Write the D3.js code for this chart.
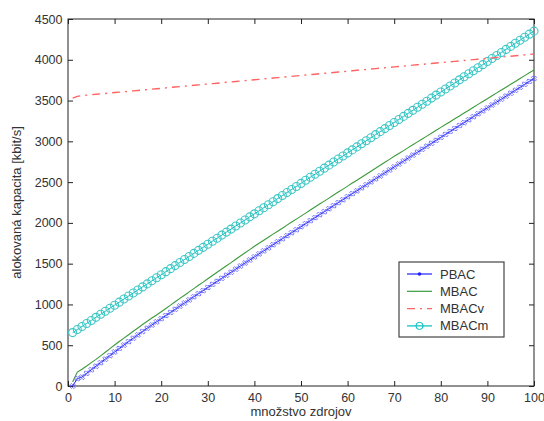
<!DOCTYPE html>
<html>
<head>
<meta charset="utf-8">
<script src="https://cdn.jsdelivr.net/npm/d3@7"></script>
<style>
  body { margin: 0; background: #fff; overflow: hidden; }
  svg { display: block; font-family: "Liberation Sans", Arial, sans-serif; }
</style>
</head>
<body>
<svg id="chart" width="544" height="421"></svg>
<script>
// values, n = 1..100
const sources = d3.range(1, 101);

const pbac = [0, 90, 109, 155, 199, 242, 285, 329, 373, 417,
    460, 502, 544, 586, 627, 669, 709, 748, 786, 825,
    864, 902, 941, 980, 1017, 1056, 1094, 1132, 1169, 1208,
    1246, 1283, 1321, 1358, 1395, 1433, 1471, 1508, 1545, 1583,
    1620, 1657, 1694, 1732, 1768, 1805, 1843, 1880, 1916, 1953,
    1990, 2027, 2064, 2101, 2137, 2174, 2211, 2248, 2284, 2321,
    2358, 2393, 2430, 2467, 2503, 2540, 2576, 2613, 2649, 2686,
    2722, 2758, 2795, 2831, 2867, 2903, 2940, 2976, 3012, 3049,
    3085, 3121, 3157, 3193, 3229, 3265, 3302, 3338, 3374, 3410,
    3446, 3482, 3518, 3554, 3590, 3626, 3662, 3699, 3734, 3770];

const mbac = [50, 170, 205, 245, 287, 327, 370, 414, 458, 502,
    545, 587, 629, 671, 712, 754, 794, 833, 871, 910,
    951, 991, 1033, 1074, 1113, 1154, 1194, 1235, 1274, 1315,
    1355, 1395, 1435, 1474, 1513, 1554, 1594, 1633, 1672, 1713,
    1750, 1787, 1824, 1862, 1898, 1935, 1973, 2010, 2046, 2083,
    2120, 2157, 2194, 2231, 2267, 2304, 2341, 2378, 2414, 2451,
    2488, 2523, 2560, 2597, 2633, 2670, 2706, 2743, 2779, 2816,
    2851, 2886, 2923, 2958, 2993, 3028, 3064, 3099, 3135, 3171,
    3206, 3241, 3276, 3311, 3347, 3382, 3418, 3453, 3488, 3523,
    3559, 3594, 3629, 3664, 3699, 3734, 3770, 3806, 3840, 3875];

const mbacv = [3530, 3552, 3561, 3566, 3571, 3577, 3582, 3587, 3592, 3598,
    3603, 3608, 3613, 3619, 3624, 3629, 3634, 3640, 3645, 3650,
    3655, 3661, 3666, 3671, 3676, 3682, 3687, 3692, 3697, 3703,
    3708, 3713, 3718, 3724, 3729, 3734, 3739, 3745, 3750, 3755,
    3760, 3766, 3771, 3776, 3781, 3787, 3792, 3797, 3802, 3808,
    3813, 3818, 3823, 3829, 3834, 3839, 3844, 3850, 3855, 3860,
    3865, 3871, 3876, 3881, 3886, 3892, 3897, 3902, 3907, 3913,
    3918, 3923, 3928, 3934, 3939, 3944, 3949, 3955, 3960, 3965,
    3970, 3976, 3981, 3986, 3991, 3997, 4002, 4007, 4012, 4018,
    4023, 4028, 4033, 4039, 4044, 4049, 4054, 4060, 4065, 4070];

const mbacm = [655, 692, 730, 767, 804, 842, 879, 916, 954, 991,
    1028, 1066, 1103, 1140, 1178, 1215, 1252, 1290, 1327, 1364,
    1402, 1439, 1476, 1514, 1551, 1588, 1626, 1663, 1700, 1738,
    1775, 1812, 1850, 1887, 1924, 1962, 1999, 2036, 2074, 2111,
    2148, 2186, 2223, 2260, 2298, 2335, 2372, 2410, 2447, 2484,
    2522, 2559, 2596, 2634, 2671, 2708, 2746, 2783, 2820, 2858,
    2895, 2932, 2970, 3007, 3044, 3082, 3119, 3156, 3194, 3231,
    3268, 3306, 3343, 3380, 3418, 3455, 3492, 3530, 3567, 3604,
    3642, 3679, 3716, 3754, 3791, 3828, 3866, 3903, 3940, 3978,
    4015, 4052, 4090, 4127, 4164, 4202, 4239, 4276, 4314, 4351];

const xTicks = [0, 10, 20, 30, 40, 50, 60, 70, 80, 90, 100];
const yTicks = [0, 500, 1000, 1500, 2000, 2500, 3000, 3500, 4000, 4500];
const legendNames = ["PBAC", "MBAC", "MBACv", "MBACm"];

const width = 544, height = 421;
const margin = { top: 19, right: 10, bottom: 35, left: 68 };
const innerWidth = width - margin.left - margin.right;
const innerHeight = height - margin.top - margin.bottom;

const svg = d3.select("#chart");
const g = svg.append("g")
    .attr("transform", `translate(${margin.left},${margin.top})`);

const xScale = d3.scaleLinear().domain([0, 100]).range([0, innerWidth]);
const yScale = d3.scaleLinear().domain([0, 4500]).range([innerHeight, 0]);

const tickColor = "#222";
const textColor = "#333";

// axes with inward ticks on all four sides
const xAxisG = g.append("g")
    .attr("transform", `translate(0,${innerHeight})`)
    .call(d3.axisBottom(xScale).tickValues(xTicks).tickFormat(d3.format("d"))
        .tickSizeInner(-5).tickSizeOuter(0).tickPadding(7));
const yAxisG = g.append("g")
    .call(d3.axisLeft(yScale).tickValues(yTicks).tickFormat(d3.format("d"))
        .tickSizeInner(-5).tickSizeOuter(0).tickPadding(5.5));
const topAxisG = g.append("g")
    .call(d3.axisTop(xScale).tickValues(xTicks).tickSizeInner(-5).tickSizeOuter(0));
const rightAxisG = g.append("g")
    .attr("transform", `translate(${innerWidth},0)`)
    .call(d3.axisRight(yScale).tickValues(yTicks).tickSizeInner(-5).tickSizeOuter(0));
topAxisG.selectAll("text").remove();
rightAxisG.selectAll("text").remove();

[xAxisG, yAxisG, topAxisG, rightAxisG].forEach(a => {
    a.select(".domain").remove();
    a.selectAll("line").attr("stroke", tickColor);
    a.selectAll("text").attr("fill", textColor).attr("font-size", 12.5);
});

g.append("rect")
    .attr("width", innerWidth)
    .attr("height", innerHeight)
    .attr("fill", "none")
    .attr("stroke", tickColor)
    .attr("stroke-width", 1);

const line = ys => d3.line()
    .x((d, i) => xScale(sources[i]))
    .y(d => yScale(d))(ys);

// MBACm - cyan with circles
g.append("path")
    .attr("d", line(mbacm))
    .attr("fill", "none")
    .attr("stroke", "#00bfbf")
    .attr("stroke-width", 1);
g.selectAll(".mk-m")
    .data(mbacm)
    .enter().append("circle")
    .attr("class", "mk-m")
    .attr("cx", (d, i) => xScale(sources[i]))
    .attr("cy", d => yScale(d))
    .attr("r", 4)
    .attr("fill", "none")
    .attr("stroke", "#3ec6c6")
    .attr("stroke-width", 1.1);

// MBACv - red dash-dot
g.append("path")
    .attr("d", line(mbacv))
    .attr("fill", "none")
    .attr("stroke", "#ff6464")
    .attr("stroke-width", 1.4)
    .attr("stroke-dasharray", "8,5,2,5");

// MBAC - green solid
g.append("path")
    .attr("d", line(mbac))
    .attr("fill", "none")
    .attr("stroke", "#3c9a3c")
    .attr("stroke-width", 1.1);

// PBAC - blue with small star markers
g.append("path")
    .attr("d", line(pbac))
    .attr("fill", "none")
    .attr("stroke", "#2020ff")
    .attr("stroke-width", 1);
const star = d3.symbol().type(d3.symbolCross).size(16);
g.selectAll(".mk-p")
    .data(pbac)
    .enter().append("path")
    .attr("class", "mk-p")
    .attr("d", star)
    .attr("transform", (d, i) => `translate(${xScale(sources[i])},${yScale(d)}) rotate(45)`)
    .attr("fill", "none")
    .attr("stroke", "#6060ff")
    .attr("stroke-width", 0.8);

// axis labels
svg.append("text")
    .attr("x", margin.left + innerWidth / 2)
    .attr("y", 416)
    .attr("text-anchor", "middle")
    .attr("fill", textColor)
    .attr("font-size", 13)
    .text("množstvo zdrojov");

svg.append("text")
    .attr("transform", `translate(21,${margin.top + innerHeight / 2}) rotate(-90)`)
    .attr("text-anchor", "middle")
    .attr("fill", textColor)
    .attr("font-size", 13)
    .text("alokovaná kapacita [kbit/s]");

// legend
const legendG = svg.append("g").attr("transform", "translate(399,262)");
legendG.append("rect")
    .attr("width", 105)
    .attr("height", 75)
    .attr("fill", "#fff")
    .attr("stroke", "#444")
    .attr("stroke-width", 1.2);

const legendStyles = [
    { color: "#2020ff", dash: null, marker: "dot" },
    { color: "#3c9a3c", dash: null, marker: null },
    { color: "#ff6464", dash: "8,5,2,5", marker: null },
    { color: "#00bfbf", dash: null, marker: "circle" }
];

legendNames.forEach((name, i) => {
    const row = legendG.append("g").attr("transform", `translate(0,${12 + i * 17.3})`);
    const s = legendStyles[i];
    row.append("line")
        .attr("x1", 8).attr("x2", 33)
        .attr("stroke", s.color)
        .attr("stroke-width", 1.2)
        .attr("stroke-dasharray", s.dash);
    if (s.marker === "dot") {
        row.append("circle").attr("cx", 20.5).attr("r", 1.8).attr("fill", s.color);
    }
    if (s.marker === "circle") {
        row.append("circle").attr("cx", 20.5).attr("r", 3.6)
            .attr("fill", "none").attr("stroke", s.color);
    }
    row.append("text")
        .attr("x", 41)
        .attr("dy", "0.35em")
        .attr("fill", textColor)
        .attr("font-size", 13)
        .text(name);
});
</script>
</body>
</html>
